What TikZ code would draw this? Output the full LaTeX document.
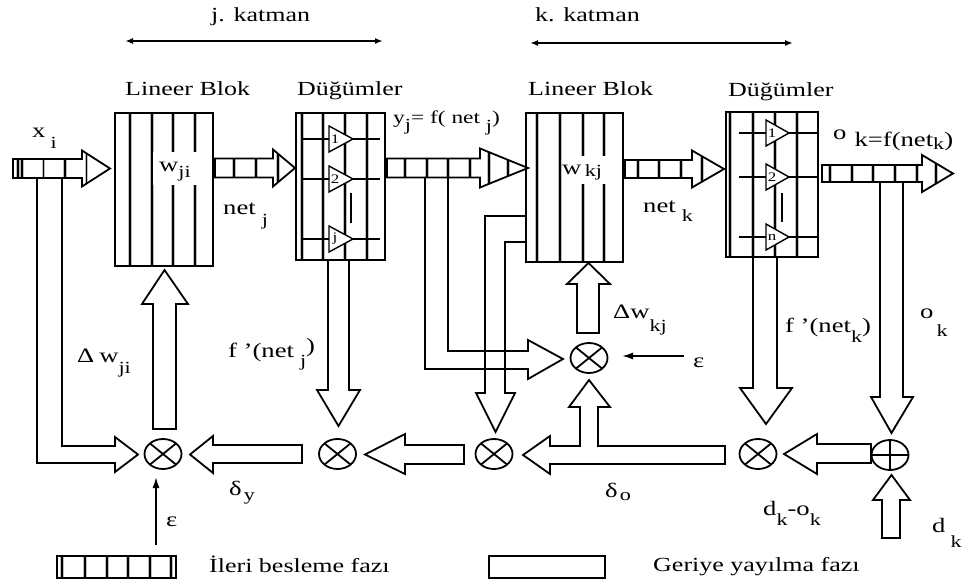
\documentclass[tikz,border=0pt]{standalone}
\usepackage{fontspec}
\setmainfont{Liberation Serif}[FakeStretch=1.3]
\usetikzlibrary{arrows.meta,shapes.geometric}
\newcommand\lsub[2][10pt]{\raisebox{-#1}{\fontsize{17}{17}\selectfont #2}}
\newcommand\stripe[3]{\draw[gray!50,line width=3.4pt] (#1,#2) -- (#1,#3); \draw[line width=1.3pt] (#1,#2) -- (#1,#3);}
\newcommand\sarrow[7]{%
  \begin{scope}
    \clip (#1,#4-#5) -- (#2,#4-#5) -- (#2,#4-#6) -- (#3,#4) -- (#2,#4+#6) -- (#2,#4+#5) -- (#1,#4+#5) -- cycle;
    \foreach \s in {#7} {\stripe{\s}{#4-#6}{#4+#6}}
  \end{scope}
  \draw[fat,fill=none] (#1,#4-#5) -- (#2,#4-#5) -- (#2,#4-#6) -- (#3,#4) -- (#2,#4+#6) -- (#2,#4+#5) -- (#1,#4+#5) -- cycle;
}
\begin{document}
\begin{tikzpicture}[x=1pt,y=-1pt,
  lbl/.style={inner sep=0pt, anchor=base west, font=\fontsize{20.5}{20.5}\selectfont},
  ttl/.style={inner sep=0pt, anchor=base west, font=\fontsize{20}{20}\selectfont},
  num/.style={inner sep=0pt, font=\fontsize{13}{13}\selectfont},
  blk/.style={draw, line width=2.6pt, inner sep=0pt},
  fat/.style={draw, line width=1.8pt, fill=white, line join=miter},
  fatopen/.style={draw, line width=1.8pt, line join=miter},
  hl/.style={line width=1.4pt},
  tri/.style={draw, fill=white, line width=1.4pt, line join=miter},
  thinarr/.style={line width=1.6pt, -{Latex[length=11pt,width=7pt]}},
  dblarr/.style={line width=1.8pt, {Latex[length=8pt,width=6pt]}-{Latex[length=8pt,width=6pt]}},
  mult/.style={draw, ellipse, line width=1.8pt, minimum width=37pt, minimum height=30pt, inner sep=0pt,
    path picture={\draw[line width=1.8pt] (path picture bounding box.north west) -- (path picture bounding box.south east)
      (path picture bounding box.south west) -- (path picture bounding box.north east);}},
  plusn/.style={draw, ellipse, line width=1.8pt, minimum width=37pt, minimum height=30pt, inner sep=0pt,
    path picture={\draw[line width=1.8pt] (path picture bounding box.north) -- (path picture bounding box.south)
      (path picture bounding box.west) -- (path picture bounding box.east);}}
]
\useasboundingbox (0,0) rectangle (979,585);

% ---------- top layer labels ----------
\node[ttl] (tj) at (211,22) {j. katman};
\node[ttl] (tk) at (535,22) {k. katman};
\coordinate (ja) at (125,41); \coordinate (jb) at (383,41);
\coordinate (ka) at (530,43); \coordinate (kb) at (793,43);
\draw[dblarr] (ja) -- (jb);
\draw[dblarr] (ka) -- (kb);

\node[ttl] (tLBj) at (125,96) {Lineer Blok};
\node[ttl] (tDj) at (297,96) {Düğümler};
\node[ttl] (tLBk) at (528,96) {Lineer Blok};
\node[ttl] (tDk) at (728,97) {Düğümler};

% ---------- hollow (backward) arrows ----------
\draw[fatopen] (37,178) -- (37,463) -- (115,463) -- (115,472) -- (138,454.5) -- (115,437) -- (115,446) -- (62,446) -- (62,178);
\draw[fat] (153,429) -- (153,304) -- (142,304) -- (164.5,270) -- (188,304) -- (176,304) -- (176,429) -- cycle;
\draw[fat] (302,445) -- (213,445) -- (213,436) -- (190,454.5) -- (213,473) -- (213,463) -- (302,463) -- cycle;
\draw[fat] (328,261) -- (328,390) -- (317,390) -- (338.5,426) -- (360,390) -- (349,390) -- (349,261);
\draw[fat] (464,445) -- (405,445) -- (405,434) -- (365,454.5) -- (405,474) -- (405,464) -- (464,464) -- cycle;
\draw[fatopen] (425,177) -- (425,369) -- (528,369) -- (528,379) -- (563,359) -- (528,340) -- (528,351) -- (448,351) -- (448,177);
\draw[fatopen] (526,216) -- (485,216) -- (485,393) -- (476,393) -- (495.5,432) -- (515,393) -- (505,393) -- (505,242) -- (526,242);
\draw[fat] (725,446) -- (598,446) -- (598,407) -- (610,407) -- (589,380) -- (569,407) -- (580,407) -- (580,446) -- (550,446) -- (550,436) -- (523,455) -- (550,474) -- (550,464) -- (725,464) -- cycle;
\draw[fat] (577,333) -- (577,284) -- (567,284) -- (588.5,263) -- (610,284) -- (599,284) -- (599,333) -- cycle;
\draw[fat] (753,258) -- (753,388) -- (740,388) -- (766,424) -- (792,388) -- (777,388) -- (777,258);
\draw[fat] (880,183) -- (880,397) -- (871,397) -- (891.5,433) -- (913,397) -- (903,397) -- (903,183);
\draw[fat] (871,444) -- (817,444) -- (817,434) -- (784,454) -- (817,474) -- (817,463) -- (871,463) -- cycle;
\draw[fat] (882,538) -- (882,500) -- (873,500) -- (891.5,475) -- (910,500) -- (900,500) -- (900,538) -- cycle;

% ---------- striped (forward) arrows ----------
\sarrow{13}{82}{110}{168.5}{9.5}{18}{18,22,43.5,65,86.5}
\sarrow{215}{273}{295}{168}{9.5}{18.5}{234,256,278}
\sarrow{387}{480}{528}{168}{9.5}{19.5}{405,427,448,470,489,508}
\sarrow{625}{692}{724}{169}{9}{18.5}{638,659,681,702}
\sarrow{822}{922}{953}{173.5}{8.5}{18.5}{830,852,873,895,917,936}

% ---------- Lineer Blok j ----------
\foreach \s in {130,152,173,195} {\stripe{\s}{113}{266}}
\node[blk, minimum width=98pt, minimum height=153pt] (LBj) at (164,189.5) {};
\fill[white] (153,152) rectangle (203,185);
\node[lbl] (wji) at (159,172) {w\lsub[6pt]{ji}};

% ---------- Dugumler j ----------
\foreach \s in {302,323,345,367} {\stripe{\s}{113}{260}}
\node[blk, minimum width=89pt, minimum height=147pt] (Dj) at (340.5,186.5) {};
\foreach \y in {139,179,239} {\draw[hl] (303,\y) -- (380,\y);}
\foreach \y/\t in {139/1,179/2,239/j} {
  \draw[tri] (329,\y-13) -- (353,\y) -- (329,\y+13) -- cycle;
  \node[num] at (335,\y) {\t};
}
\draw[line width=1.8pt] (351,193) -- (351,223);

% ---------- Lineer Blok k ----------
\foreach \s in {537,560,583,604} {\stripe{\s}{113}{262}}
\node[blk, minimum width=97pt, minimum height=149pt] (LBk) at (574.5,187.5) {};
\fill[white] (562,156) rectangle (607,184);
\node[lbl] (wkj) at (562,175) {w\,\lsub[2pt]{kj}};

% ---------- Dugumler k ----------
\foreach \s in {730,753,775,797} {\stripe{\s}{112}{257}}
\node[blk, minimum width=92pt, minimum height=145pt] (Dk) at (772,184.5) {};
\foreach \y in {133,177,237} {\draw[hl] (739,\y) -- (817,\y);}
\foreach \y/\t in {133/1,177/2,237/n} {
  \draw[tri] (766,\y-13) -- (789,\y) -- (766,\y+13) -- cycle;
  \node[num] at (772,\y) {\t};
}
\draw[line width=1.8pt] (782,193) -- (782,222);

% ---------- multipliers / adder ----------
\node[mult] (m1) at (163,454) {};
\node[mult] (m2) at (337.5,454) {};
\node[mult] (m4) at (494,454) {};
\node[mult] (m3) at (589,358) {};
\node[mult] (m5) at (758,454) {};
\node[plusn] (pk) at (890,455) {};

% ---------- epsilon inputs ----------
\coordinate (e1a) at (156,545); \coordinate (e1b) at (156,477);
\draw[thinarr] (e1a) -- (e1b);
\coordinate (e3a) at (684,356); \coordinate (e3b) at (622,356);
\draw[thinarr] (e3a) -- (e3b);

% ---------- labels ----------
\node[lbl] (lxi) at (32,138) {x\hspace{5pt}\lsub[11pt]{i}};
\node[lbl] (lnetj) at (223,215) {net\hspace{6pt}\lsub[11pt]{j}};
\node[lbl, font=\fontsize{18}{18}\selectfont] (lyj) at (393,124) {y\lsub[7pt]{j}= f( net \lsub[8pt]{j})};
\node[lbl] (lnetk) at (643,213) {net\hspace{6pt}\lsub[9pt]{k}};
\node[lbl] (lok) at (833,147) {\raisebox{7pt}{o}\hspace{8pt}k=f(net\lsub[3pt]{k})};
\node[lbl] (ldwji) at (77,362) {Δ\hspace{5pt}w\lsub[11pt]{ji}};
\node[lbl] (lfj) at (228,357) {f '(net\hspace{6pt}\lsub[9pt]{j}\raisebox{5pt}{)}};
\node[lbl] (ldwkj) at (613,318) {Δw\lsub[13pt]{kj}};
\node[lbl] (leps3) at (693,367) {ε};
\node[lbl] (lfk) at (785,332) {f '(net\lsub[10pt]{k})};
\node[lbl] (lok2) at (920,318) {o\hspace{3pt}\lsub[18pt]{k}};
\node[lbl] (ldo) at (763,515) {d\lsub[10pt]{k}-o\lsub[10pt]{k}};
\node[lbl] (ldk) at (932,532) {d\hspace{5pt}\lsub[15pt]{k}};
\node[lbl] (ldy) at (229,495) {δ\hspace{2pt}\lsub[5pt]{y}};
\node[lbl] (ldoo) at (605,497) {δ\hspace{2pt}\lsub[3pt]{o}};
\node[lbl] (leps1) at (166,526) {ε};

% ---------- legend ----------
\foreach \s in {62,85,107,128,150,171} {\stripe{\s}{556}{578}}
\node[blk, line width=2.2pt, minimum width=119pt, minimum height=22pt] (legf) at (116.5,567) {};
\node[ttl] (legft) at (209,572) {İleri besleme fazı};
\node[blk, line width=2.2pt, minimum width=116pt, minimum height=22pt] (legb) at (547,567) {};
\node[ttl] (legbt) at (653,571) {Geriye yayılma fazı};
\end{tikzpicture}
\end{document}
